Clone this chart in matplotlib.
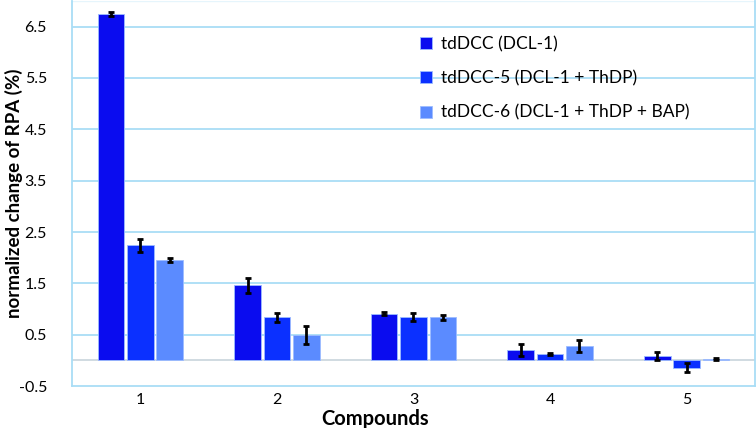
import numpy as np
import matplotlib
matplotlib.use("Agg")
import matplotlib.pyplot as plt

# values
compounds = ["1", "2", "3", "4", "5"]
series_names = ["tdDCC (DCL-1)", "tdDCC-5 (DCL-1 + ThDP)", "tdDCC-6 (DCL-1 + ThDP + BAP)"]
dcl1 = [6.75, 1.46, 0.91, 0.20, 0.08]
dcl1_err = [0.04, 0.15, 0.03, 0.12, 0.08]
thdp = [2.24, 0.84, 0.84, 0.12, -0.14]
thdp_err = [0.12, 0.09, 0.08, 0.02, 0.08]
bap = [1.95, 0.49, 0.84, 0.28, 0.03]
bap_err = [0.04, 0.17, 0.05, 0.11, 0.02]
yticks = [-0.5, 0.5, 1.5, 2.5, 3.5, 4.5, 5.5, 6.5]

colors = ["#0a0cef", "#0b30ff", "#5b8bff"]
plt.rcParams["font.family"] = ["Lato", "DejaVu Sans"]

fig = plt.figure(figsize=(7.56, 4.28), dpi=100)
ax = fig.add_axes([0.0952, 0.0981, 0.9035, 0.8996])

x = np.arange(len(compounds)) + 0.5
w = 0.195
step = 0.215
for i, (vals, errs) in enumerate([(dcl1, dcl1_err), (thdp, thdp_err), (bap, bap_err)]):
    ax.bar(x + (i - 1) * step, vals, w, color=colors[i], edgecolor="#9dbcff",
           linewidth=0.6, label=series_names[i], zorder=3)
    ax.errorbar(x + (i - 1) * step, vals, yerr=errs, fmt="none", ecolor="black",
                elinewidth=2, capsize=2.5, capthick=2, zorder=4)

ax.set_xlim(0, 5)
ax.set_ylim(-0.5, 7.0)
ax.set_yticks(yticks)
ax.set_yticklabels([f"{v:.1f}" for v in yticks], fontsize=11.5)
ax.set_xticks(x)
ax.set_xticklabels(compounds, fontsize=11.5)
ax.tick_params(axis="y", length=0, pad=18)
ax.tick_params(axis="x", length=0, pad=5)
for yv in yticks[1:]:
    ax.axhline(yv, color="#a9ddf6", linewidth=1.3, zorder=1)
ax.axhline(7.0, color="#e6f5fc", linewidth=1, zorder=1)
ax.axhline(0, color="#c8d4dc", linewidth=1.2, zorder=2)
ax.spines["top"].set_visible(False)
for side in ["left", "right", "bottom"]:
    ax.spines[side].set_color("#a9ddf6")
    ax.spines[side].set_linewidth(1.3)

ax.set_ylabel("normalized change of RPA (%)", fontsize=13.5, fontweight="bold", va="center")
ax.yaxis.set_label_coords(-0.0845, 0.5)
ax.set_xlabel("Compounds", fontsize=14.5, fontweight="bold", va="center")
ax.xaxis.set_label_coords(0.444, -0.086)

leg = ax.legend(loc="upper left", bbox_to_anchor=(0.487, 0.95), frameon=False,
                fontsize=12.5, handlelength=0.7, handleheight=0.7, handletextpad=0.5,
                labelspacing=1.05)

fig.savefig("out.png", dpi=100)
